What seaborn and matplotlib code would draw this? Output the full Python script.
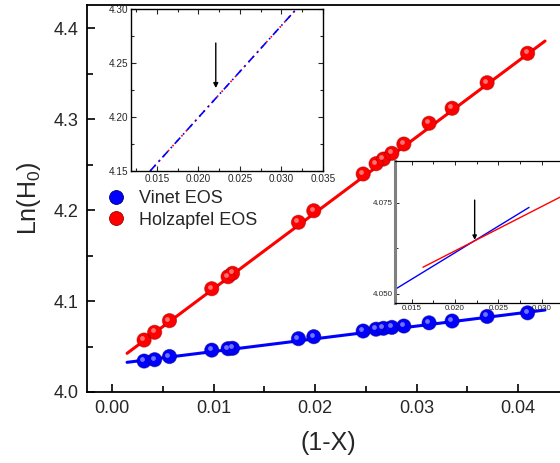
import numpy as np
import pandas as pd
import matplotlib
matplotlib.use("Agg")
import matplotlib.pyplot as plt
import matplotlib.transforms as mtransforms
from matplotlib.lines import Line2D
from matplotlib.ticker import MultipleLocator, FormatStrFormatter
import seaborn as sns

sns.set_theme(style="white")
plt.rcParams['font.family'] = ['Liberation Sans', 'DejaVu Sans']
plt.rcParams['mathtext.fontset'] = 'custom'
plt.rcParams['mathtext.rm'] = 'Liberation Sans'
plt.rcParams['mathtext.it'] = 'Liberation Sans'

# ---------------- data ----------------
x_vals = [0.00313, 0.00417, 0.00563, 0.00980, 0.01141, 0.01185, 0.01835, 0.01986,
          0.02473, 0.02600, 0.02673, 0.02756, 0.02874, 0.03123, 0.03350, 0.03695, 0.04094]
vinet_y = [4.034, 4.0355, 4.039, 4.046, 4.0476, 4.048, 4.0586, 4.0608,
           4.067, 4.069, 4.070, 4.071, 4.0725, 4.076, 4.078, 4.083, 4.087]
holz_y = [4.0571, 4.0656, 4.0784, 4.1135, 4.1267, 4.1304, 4.1865, 4.1992,
          4.2396, 4.2509, 4.2560, 4.2623, 4.2725, 4.2953, 4.3118, 4.3399, 4.3722]
series_names = ["Vinet EOS", "Holzapfel EOS"]
fit_x = [0.00145, 0.04266]
vinet_fit = [4.0326, 4.0901]
holz_fit = [4.0425, 4.3857]

# inset 1 (zoom of fitted lines)
in1_x = [0.0142, 0.0318]
in1_y = [4.150, 4.300]
in1_arrow_x = [0.0221, 0.0221]
in1_arrow_y = [4.2685, 4.2268]

# inset 2
in2_blue_x = [0.0125, 0.02855]
in2_blue_y = [4.0504, 4.0737]
in2_red_x = [0.0163, 0.0360]
in2_red_y = [4.0573, 4.0812]
in2_arrow_x = [0.02227, 0.02227]
in2_arrow_y = [4.0757, 4.0648]

colors = {"Vinet EOS": "#0000FF", "Holzapfel EOS": "#FF0000"}
edges = {"Vinet EOS": "#00007A", "Holzapfel EOS": "#9A0000"}

df = pd.DataFrame({
    "x": x_vals * 2,
    "y": vinet_y + holz_y,
    "series": [series_names[0]] * len(x_vals) + [series_names[1]] * len(x_vals),
})
fit_df = pd.DataFrame({
    "x": fit_x * 2,
    "y": vinet_fit + holz_fit,
    "series": [series_names[0]] * 2 + [series_names[1]] * 2,
})

W, H = 560, 463
fig = plt.figure(figsize=(W / 100, H / 100), dpi=100)

def px_box(l, t, r, b):
    return [l / W, 1 - b / H, (r - l) / W, (b - t) / H]

# ---------------- main axes ----------------
ax = fig.add_axes(px_box(87, 5, 568.75, 392))
sns.lineplot(data=fit_df, x="x", y="y", hue="series", palette=colors, ax=ax,
             linewidth=2.2, legend=False, zorder=2)
sns.scatterplot(data=df, x="x", y="y", hue="series", palette=colors, ax=ax,
                s=105, edgecolor=None, linewidth=0, legend=False, zorder=3)
# shading to mimic spheres
for name, ys in zip(series_names, [vinet_y, holz_y]):
    ax.scatter(x_vals, ys, s=105, facecolors='none', edgecolors=edges[name],
               linewidths=0.7, alpha=0.5, zorder=4)
    off = mtransforms.offset_copy(ax.transData, fig=fig, x=-2.0, y=2.0, units='dots')
    ax.scatter(x_vals, ys, s=12, color='white', alpha=0.45, linewidths=0,
               transform=off, zorder=5)

ax.set_xlim(-0.0025, 0.045)
ax.set_ylim(4.0, 4.4253)
ax.xaxis.set_major_locator(MultipleLocator(0.01))
ax.xaxis.set_minor_locator(MultipleLocator(0.005))
ax.yaxis.set_major_locator(MultipleLocator(0.1))
ax.yaxis.set_minor_locator(MultipleLocator(0.05))
ax.xaxis.set_major_formatter(FormatStrFormatter('%.2f'))
ax.yaxis.set_major_formatter(FormatStrFormatter('%.1f'))
ax.tick_params(which='both', direction='in', labelsize=13, color='black',
               width=1.2, left=True, bottom=True, top=False, right=False, pad=6)
ax.tick_params(which='major', length=6)
ax.tick_params(which='minor', length=4.5)
for sp in ax.spines.values():
    sp.set_color('black')
    sp.set_linewidth(1.3)
ax.set_xlabel("(1-X)", fontsize=18, labelpad=10)
ax.set_ylabel("Ln(H$_0$)", fontsize=18, labelpad=8)

handles = [Line2D([0], [0], marker='o', linestyle='none', markersize=10,
                  markerfacecolor=colors[n], markeredgecolor=edges[n],
                  markeredgewidth=0.6, label=n) for n in series_names]
fig.legend(handles=handles, loc='upper left', bbox_to_anchor=(98 / W, 1 - 181 / H),
           frameon=False, fontsize=13, handletextpad=0.75, labelspacing=0.25,
           borderpad=0, handlelength=1.0)

# ---------------- inset 1 ----------------
a1 = fig.add_axes(px_box(131, 9, 323, 171))
sns.lineplot(x=in1_x, y=in1_y, ax=a1, color='#FF0000', linewidth=1.2,
             linestyle=(0, (1, 3)))
sns.lineplot(x=in1_x, y=in1_y, ax=a1, color='#0000FF', linewidth=1.2,
             linestyle=(0, (5, 2.5, 1, 2.5)))
a1.annotate('', xy=(in1_arrow_x[1], in1_arrow_y[1]),
            xytext=(in1_arrow_x[0], in1_arrow_y[0]),
            arrowprops=dict(arrowstyle='-|>', color='black', lw=1.0,
                            mutation_scale=7, shrinkA=0, shrinkB=0))
a1.set_xlim(0.0119, 0.035)
a1.set_ylim(4.15, 4.30)
a1.xaxis.set_major_locator(MultipleLocator(0.005))
a1.xaxis.set_minor_locator(MultipleLocator(0.0025))
a1.yaxis.set_major_locator(MultipleLocator(0.05))
a1.yaxis.set_minor_locator(MultipleLocator(0.025))
a1.xaxis.set_major_formatter(FormatStrFormatter('%.3f'))
a1.yaxis.set_major_formatter(FormatStrFormatter('%.2f'))
a1.tick_params(which='both', direction='in', labelsize=7.2, top=True, right=True,
               left=True, bottom=True, width=0.8, pad=2)
a1.tick_params(which='major', length=3.5)
a1.tick_params(which='minor', length=2.5)
for sp in a1.spines.values():
    sp.set_color('black')
    sp.set_linewidth(1.0)
a1.set_xlabel('')
a1.set_ylabel('')

# ---------------- inset 2 ----------------
a2 = fig.add_axes(px_box(395, 160.7, 571.9, 303))
sns.lineplot(x=in2_blue_x, y=in2_blue_y, ax=a2, color='#0000FF', linewidth=1.0)
sns.lineplot(x=in2_red_x, y=in2_red_y, ax=a2, color='#FF0000', linewidth=1.0)
a2.annotate('', xy=(in2_arrow_x[1], in2_arrow_y[1]),
            xytext=(in2_arrow_x[0], in2_arrow_y[0]),
            arrowprops=dict(arrowstyle='-|>', color='black', lw=1.0,
                            mutation_scale=6, shrinkA=0, shrinkB=0))
a2.set_xlim(0.01307, 0.0335)
a2.set_ylim(4.0475, 4.0865)
a2.xaxis.set_major_locator(MultipleLocator(0.005))
a2.xaxis.set_minor_locator(MultipleLocator(0.0025))
a2.yaxis.set_major_locator(MultipleLocator(0.025))
a2.yaxis.set_minor_locator(MultipleLocator(0.0125))
a2.xaxis.set_major_formatter(FormatStrFormatter('%.3f'))
a2.yaxis.set_major_formatter(FormatStrFormatter('%.3f'))
a2.tick_params(which='both', direction='in', labelsize=5.8, top=True, right=True,
               left=True, bottom=True, width=0.7, pad=1.5)
a2.tick_params(which='major', length=3)
a2.tick_params(which='minor', length=2)
for sp in a2.spines.values():
    sp.set_color('black')
    sp.set_linewidth(0.9)
a2.spines['left'].set_color('#808080')
a2.spines['left'].set_linewidth(2.2)
a2.set_xlabel('')
a2.set_ylabel('')

fig.savefig("out.png", dpi=100)
